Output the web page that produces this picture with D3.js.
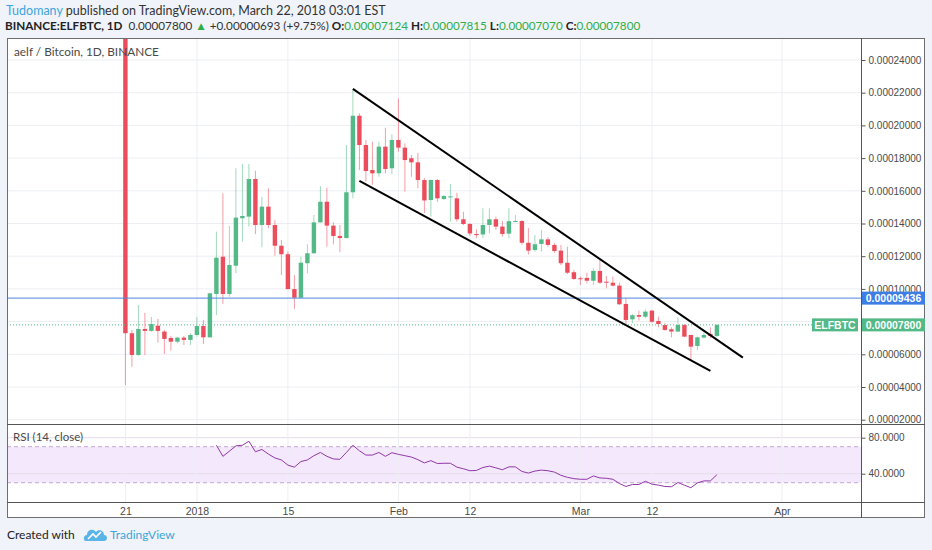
<!DOCTYPE html>
<html>
<head>
<meta charset="utf-8">
<script src="https://cdnjs.cloudflare.com/ajax/libs/d3/7.8.5/d3.min.js"></script>
<style>
  body { margin: 0; background: #f0f3fa; }
  svg { display: block; font-family: "Liberation Sans", Arial, sans-serif; }
</style>
</head>
<body>
<script>
// ELF/BTC daily candles, prices in satoshi (1e-8 BTC)
const firstDay = '2017-12-21';
const opens  = [26000,7290,5960,7550,7430,7750,7390,7000,6770,7020,6880,7180,7730,7040,9690,11970,9690,11420,14320,14420,
                16720,13910,15030,13910,12640,12120,9990,9460,11570,12180,14070,15330,13870,13240,13110,15910,20590,18800,17270,17070,
                18700,17380,19110,18640,17990,17740,16660,15440,16660,15500,15640,15540,14260,13970,13360,13330,13910,14260,13810,13380,
                14120,14150,12820,12380,12750,13030,12690,12340,11600,11020,10650,10670,10500,11100,10440,10380,10200,9080,8140,8400,
                8300,8670,8040,7790,7530,7390,7790,7180,6510,7020,7250,7124];
const highs  = [26000,7490,9020,8530,8280,8160,7490,7120,7080,7120,7290,8280,8100,9750,13500,15850,13850,17380,17640,17640,
                17230,15640,16150,14210,12990,12280,10850,11970,12730,14520,16290,16190,14070,13910,18800,22230,20740,19110,19000,19000,
                19860,19460,21660,18900,18190,18310,16780,16700,16720,15740,16420,15880,14720,14030,13650,14930,14930,14420,14150,14930,
                14520,14210,13730,13300,13600,13160,12810,12690,12580,11160,10750,10990,11260,11770,10790,10750,10380,9430,8470,8670,
                8750,8710,8300,7900,7650,8260,7850,7200,7080,7320,7650,7815];
const lows   = [4120,5240,5900,5960,7380,6710,6020,6220,6670,6570,6570,7080,6630,7000,8400,9080,9520,10960,12890,13810,
                13360,12550,13710,12030,10850,9950,8770,9430,10960,12150,14050,12580,12730,12240,13080,15540,17270,16560,16360,16860,
                17070,17010,18390,15950,16860,16150,14640,14420,15330,15440,14110,14110,13910,13240,13100,13100,13400,13600,13190,13100,
                14090,12690,12100,12280,12280,12580,12200,11460,10910,10550,10240,10340,10240,10300,10040,10140,9020,7850,7900,8060,
                8200,7930,7650,7440,7040,7380,7040,5650,6260,6980,6980,7070];
const closes = [7290,5960,7550,7430,7850,7430,6940,6770,7020,6880,7180,7730,7040,9730,11910,9690,11460,14360,14460,16720,
                13910,15030,13910,12640,12120,9990,9460,11600,12180,14070,15330,13870,13240,13110,15910,20590,18800,17210,17070,18700,
                17330,19110,18640,17880,17740,16660,15410,16660,15540,15680,15660,14260,13970,13390,13290,13910,14260,13810,13360,14140,
                14150,12820,12340,12730,13030,12690,12320,11570,10990,10610,10590,10500,11100,10380,10380,10200,9060,8100,8390,8300,
                8610,7990,7850,7490,7390,7790,7080,6470,7040,7180,7124,7800];

const rsiStart = '2018-01-04';
const rsi = [71.6,59.3,65,70.9,71.6,76,64.4,66.9,61.8,57.5,
             55.3,49.5,47.3,53.5,55.3,60,63.6,59.3,56.4,56,
             63.6,71.6,65.5,60.7,60.7,63.6,59.3,63.3,61.5,60,
             58.5,55.6,52,54.5,51.3,51.6,51.6,47.3,45.5,43.3,
             43.6,46.9,48.4,46.5,44.4,47.6,47.6,42.5,40.7,42.9,
             44,43.3,41.8,38.2,36,34.5,33.8,33.8,37.5,35.3,
             34.9,33.8,29.1,25.8,28,28,31.6,28.4,27.3,25.8,
             25.5,30.2,27.3,24.4,29.8,32,32,38.9];

// 8000 sits under the last-price tag in the original, so it has no label there
const priceTicks = [2000,4000,6000,10000,12000,14000,16000,18000,20000,22000,24000];
const gridPrices = [2000,4000,6000,8000,10000,12000,14000,16000,18000,20000,22000,24000];
const dateTicks  = ['2017-12-21','2018-01-01','2018-01-15','2018-02-01','2018-02-12','2018-03-01','2018-03-12','2018-04-01'];
const dateLabels = ['21','2018','15','Feb','12','Mar','12','Apr'];
const rsiTicks   = [40, 80];
const rsiBand    = [30, 70];

const alertPrice = 9436;
const lastPrice  = 7800;
const symbol     = 'ELFBTC';

// hand-drawn wedge
const upperTrend = [['2018-01-25', 22230], ['2018-03-26', 5800]];
const lowerTrend = [['2018-01-26', 16600], ['2018-03-21', 4980]];

// layout
const W = 932, H = 550;
const paneL = 7, paneR = 861, axisR = 925;
const mainTop = 38, mainBot = 424, rsiBot = 502, frameBot = 518;
const upCol = '#53b987', downCol = '#eb4d5c';

const parse = d3.utcParse('%Y-%m-%d');
const days = d3.utcDay.range(parse(firstDay), d3.utcDay.offset(parse(firstDay), opens.length));
const candles = days.map((d, i) => ({date: d, o: opens[i], h: highs[i], l: lows[i], c: closes[i]}));
const rsiDays = d3.utcDay.range(parse(rsiStart), d3.utcDay.offset(parse(rsiStart), rsi.length));

const x = d3.scaleUtc()
            .domain([parse('2017-12-21'), parse('2018-04-01')])
            .range([125.4, 781.9]);
const y = d3.scaleLinear()
            .domain([2000, 24000])
            .range([419.7, 60]);
const ry = d3.scaleLinear()
            .domain([30, 70])
            .range([482.7, 446.7]);
const fmtPrice = v => d3.format('.8f')(v / 1e8);

const svg = d3.select('body')
              .append('svg')
              .attr('width', W)
              .attr('height', H);

const defs = svg.append('defs');
defs.append('clipPath').attr('id', 'mainClip')
  .append('rect').attr('x', paneL).attr('y', mainTop).attr('width', paneR - paneL).attr('height', mainBot - mainTop);
defs.append('clipPath').attr('id', 'rsiClip')
  .append('rect').attr('x', paneL).attr('y', mainBot).attr('width', paneR - paneL).attr('height', rsiBot - mainBot);

// white chart area
svg.append('rect')
  .attr('x', paneL).attr('y', mainTop)
  .attr('width', axisR - paneL).attr('height', frameBot - mainTop)
  .attr('fill', '#fff');

// grid
svg.append('g').selectAll('line')
  .data(gridPrices)
  .enter().append('line')
  .attr('x1', paneL).attr('x2', paneR)
  .attr('y1', d => y(d)).attr('y2', d => y(d))
  .attr('stroke', '#eceef2');

// rsi band
svg.append('rect')
  .attr('x', paneL).attr('width', paneR - paneL)
  .attr('y', ry(rsiBand[1])).attr('height', ry(rsiBand[0]) - ry(rsiBand[1]))
  .attr('fill', '#f3e8fc');

svg.append('g').selectAll('line')
  .data(rsiTicks)
  .enter().append('line')
  .attr('x1', paneL).attr('x2', paneR)
  .attr('y1', d => ry(d)).attr('y2', d => ry(d))
  .attr('stroke', '#e4dcea');

svg.append('g').selectAll('line')
  .data(dateTicks)
  .enter().append('line')
  .attr('x1', d => x(parse(d))).attr('x2', d => x(parse(d)))
  .attr('y1', mainTop).attr('y2', rsiBot)
  .attr('stroke', '#eceef2');

svg.append('g').selectAll('line')
  .data(rsiBand)
  .enter().append('line')
  .attr('x1', paneL).attr('x2', paneR)
  .attr('y1', d => ry(d)).attr('y2', d => ry(d))
  .attr('stroke', '#c4a8d2')
  .attr('stroke-dasharray', '4,3');

// candles
const bodyW = 4.4;
const cg = svg.append('g').attr('clip-path', 'url(#mainClip)');
cg.selectAll('line.wick')
  .data(candles)
  .enter().append('line')
  .attr('class', 'wick')
  .attr('x1', d => x(d.date)).attr('x2', d => x(d.date))
  .attr('y1', d => y(d.h)).attr('y2', d => y(d.l))
  .attr('stroke', d => d.c >= d.o ? upCol : downCol)
  .attr('stroke-opacity', 0.55);
cg.selectAll('rect.body')
  .data(candles)
  .enter().append('rect')
  .attr('class', 'body')
  .attr('x', d => x(d.date) - bodyW / 2)
  .attr('width', bodyW)
  .attr('y', d => y(Math.max(d.o, d.c)))
  .attr('height', d => Math.max(1, Math.abs(y(d.o) - y(d.c))))
  .attr('fill', d => d.c >= d.o ? upCol : downCol);

// alert line and last price line
cg.append('line')
  .attr('x1', paneL).attr('x2', paneR)
  .attr('y1', y(alertPrice)).attr('y2', y(alertPrice))
  .attr('stroke', '#4f86dc').attr('stroke-width', 1);
cg.append('line')
  .attr('x1', paneL).attr('x2', 812)
  .attr('y1', y(lastPrice)).attr('y2', y(lastPrice))
  .attr('stroke', upCol).attr('stroke-dasharray', '1,2');

// wedge lines
const trend = d3.line().x(d => x(parse(d[0]))).y(d => y(d[1]));
cg.selectAll('path.trend')
  .data([upperTrend, lowerTrend])
  .enter().append('path')
  .attr('class', 'trend')
  .attr('d', trend)
  .attr('fill', 'none')
  .attr('stroke', '#000')
  .attr('stroke-width', 2);

// rsi line
svg.append('path')
  .datum(rsi)
  .attr('clip-path', 'url(#rsiClip)')
  .attr('d', d3.line().x((d, i) => x(rsiDays[i])).y(d => ry(d)))
  .attr('fill', 'none')
  .attr('stroke', '#9138a8')
  .attr('stroke-width', 1);

// frame
svg.append('rect')
  .attr('x', paneL + 0.5).attr('y', mainTop + 0.5)
  .attr('width', axisR - paneL - 1).attr('height', frameBot - mainTop - 1)
  .attr('fill', 'none').attr('stroke', '#6e6e6e');
[mainBot + 0.5, rsiBot + 0.5].forEach(yy => {
  svg.append('line').attr('x1', paneL).attr('x2', axisR)
    .attr('y1', yy).attr('y2', yy).attr('stroke', '#555');
});
svg.append('line')
  .attr('x1', paneR + 0.5).attr('x2', paneR + 0.5)
  .attr('y1', mainTop).attr('y2', frameBot)
  .attr('stroke', '#555');

// axes
const yAxis = d3.axisRight(y).tickValues(priceTicks).tickFormat(fmtPrice).tickSize(4).tickPadding(3);
const yg = svg.append('g').attr('transform', `translate(${paneR + 0.5},0)`).call(yAxis);
const rAxis = d3.axisRight(ry).tickValues(rsiTicks).tickFormat(d3.format('.4f')).tickSize(4).tickPadding(3);
const rg = svg.append('g').attr('transform', `translate(${paneR + 0.5},0)`).call(rAxis);
const xAxis = d3.axisBottom(x).tickValues(dateTicks.map(parse)).tickFormat((d, i) => dateLabels[i]).tickSize(0).tickPadding(5);
const xg = svg.append('g').attr('transform', `translate(0,${rsiBot + 1})`).call(xAxis);
[yg, rg, xg].forEach(g => {
  g.select('.domain').remove();
  g.selectAll('line').attr('stroke', '#555');
  g.selectAll('text').attr('fill', '#4a4a4a').attr('font-size', 10)
    .attr('font-family', '"Liberation Sans", Arial, sans-serif');
});
xg.selectAll('text').attr('font-size', 10.5);

// price labels on the axis
function priceTag(v, col, text, x0, w) {
  svg.append('rect')
    .attr('x', x0).attr('y', y(v) - 6.5)
    .attr('width', w).attr('height', 13)
    .attr('fill', col);
  svg.append('text')
    .attr('x', x0 + w / 2).attr('y', y(v) + 3.8)
    .attr('text-anchor', 'middle')
    .attr('font-size', 10.5).attr('font-weight', 'bold')
    .attr('fill', '#fff')
    .text(text);
}
priceTag(alertPrice, '#3d7ee6', fmtPrice(alertPrice), paneR + 1, axisR - paneR - 1);
priceTag(lastPrice, upCol, fmtPrice(lastPrice), paneR + 1, axisR - paneR - 1);
priceTag(lastPrice, upCol, symbol, 812, 46);

// pane titles
svg.append('text')
  .attr('x', 14).attr('y', 56)
  .attr('font-family', 'Lato, sans-serif')
  .attr('font-size', 11.8).attr('fill', '#4a4a4a')
  .text('aelf / Bitcoin, 1D, BINANCE');
svg.append('text')
  .attr('x', 13).attr('y', 441)
  .attr('font-family', 'Lato, sans-serif')
  .attr('font-size', 11.5).attr('fill', '#4a4a4a')
  .text('RSI (14, close)');

// header
const h1 = svg.append('text')
  .attr('x', 6).attr('y', 15)
  .attr('font-family', 'Lato, sans-serif')
  .attr('font-size', 12.5);
h1.append('tspan').attr('fill', '#3ba6dc').text('Tudomany');
h1.append('tspan').attr('fill', '#333').text(' published on TradingView.com, March 22, 2018 03:01 EST');

const green = '#2fae45';
const h2 = svg.append('text')
  .attr('x', 5).attr('y', 30)
  .attr('font-family', 'Lato, sans-serif')
  .attr('font-size', 11.7)
  .attr('fill', '#222')
  .attr('xml:space', 'preserve');
const parts = [
  ['BINANCE:ELFBTC, 1D', '#222', 'bold'],
  ['  0.00007800 ', '#333', 'normal'],
  ['▲', green, 'normal'],
  [' +0.00000693 (+9.75%) ', '#333', 'normal'],
  ['O:', '#222', 'bold'], ['0.00007124 ', green, 'normal'],
  ['H:', '#222', 'bold'], ['0.00007815 ', green, 'normal'],
  ['L:', '#222', 'bold'], ['0.00007070 ', green, 'normal'],
  ['C:', '#222', 'bold'], ['0.00007800', green, 'normal']
];
parts.forEach(p => h2.append('tspan').attr('fill', p[1]).attr('font-weight', p[2]).text(p[0]));

// footer
svg.append('text')
  .attr('x', 7).attr('y', 539)
  .attr('font-family', 'Lato, sans-serif')
  .attr('font-size', 12).attr('fill', '#222')
  .text('Created with');
const logo = svg.append('g').attr('transform', 'translate(84,527)');
logo.append('path')
  .attr('d', 'M2,14 C-1,14 -1,8 3,8 C3,3 9,1 12,5 C14,2 20,3 20,8 C24,8 24,14 20,14 Z')
  .attr('fill', '#5ab4e8');
logo.append('path')
  .attr('d', 'M4,12 L9,7 L12,10 L17,5')
  .attr('fill', 'none').attr('stroke', '#fff').attr('stroke-width', 1.6);
svg.append('text')
  .attr('x', 110).attr('y', 539)
  .attr('font-family', 'Lato, sans-serif')
  .attr('font-size', 12).attr('fill', '#3ba6dc')
  .text('TradingView');
</script>
</body>
</html>
